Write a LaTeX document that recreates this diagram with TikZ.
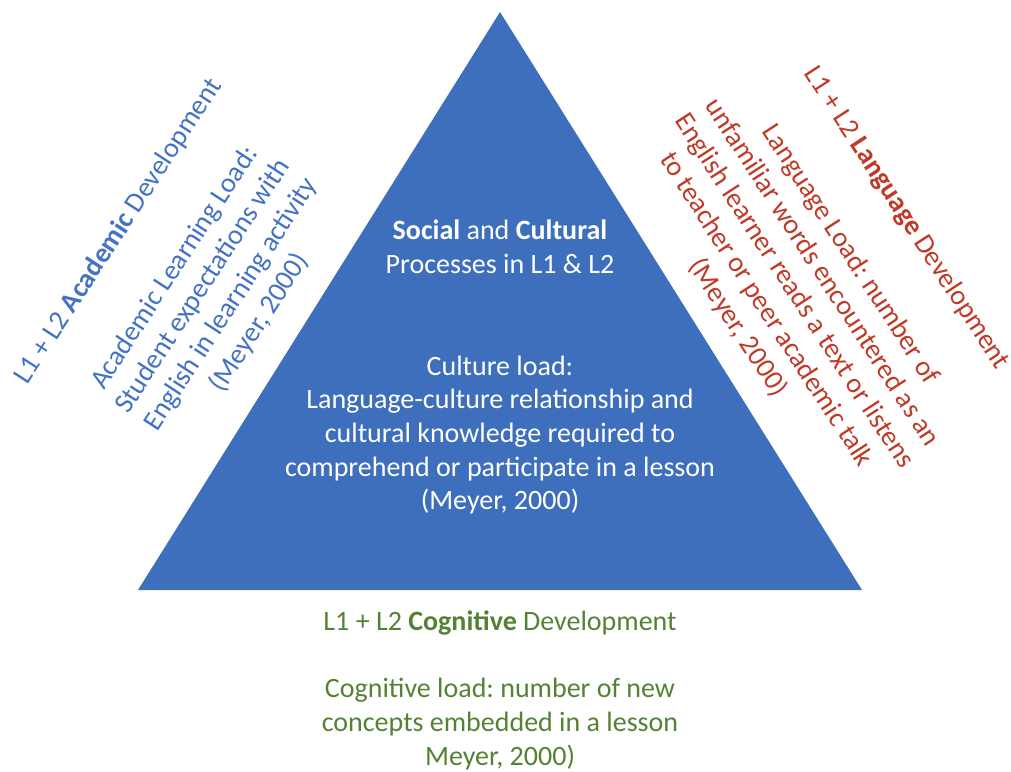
\documentclass[tikz,border=0pt]{standalone}
\usepackage{fontspec}
\setmainfont{Carlito}
\frenchspacing
\definecolor{tri}{RGB}{61,111,189}
\definecolor{acad}{RGB}{68,114,196}
\definecolor{lang}{RGB}{192,58,40}
\definecolor{cogn}{RGB}{84,130,53}
\tikzset{
  txt/.style={align=center,inner sep=0pt,font=\fontsize{28}{33.6}\selectfont\frenchspacing},
}
\begin{document}
\begin{tikzpicture}[x=1pt,y=-1pt]
\useasboundingbox (0,0) rectangle (1011,771);
\fill[tri] (500,12) coordinate (apex) -- (862,590) coordinate (br) -- (138,590) coordinate (bl) -- cycle;
\node[txt,white] (social) at (500,247) {\textbf{Social} and \textbf{Cultural}\\Processes in L1 \& L2};
\node[txt,white] (culture) at (500,435) {Culture load:\\Language-culture relationship and\\cultural knowledge required to\\comprehend or participate in a lesson\\(Meyer, 2000)};
\node[txt,acad,rotate=57] (academic) at (189,277) {L1 + L2 \textbf{Academic} Development\\[33.6pt]Academic Learning Load:\\Student expectations with\\English in learning activity\\(Meyer, 2000)};
\node[txt,lang,rotate=-57] (language) at (822,273) {L1 + L2 \textbf{Language} Development\\[33.6pt]Language Load: number of\\unfamiliar words encountered as an\\English learner reads a text or listens\\to teacher or peer academic talk\\(Meyer, 2000)};
\node[txt,cogn] (cogtitle) at (500,623) {L1 + L2 \textbf{Cognitive} Development};
\node[txt,cogn] (cogload) at (500,724) {Cognitive load: number of new\\concepts embedded in a lesson\\Meyer, 2000)};
\end{tikzpicture}
\end{document}
